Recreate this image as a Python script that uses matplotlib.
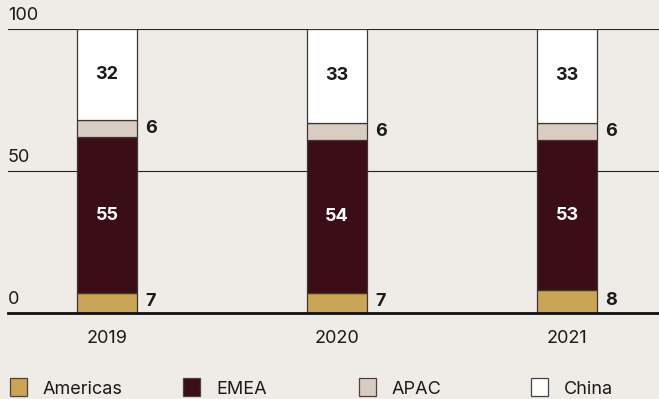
import matplotlib.pyplot as plt
from matplotlib.patches import Rectangle

# Regional share of revenue, percent
years = ['2019', '2020', '2021']
americas = [7, 7, 8]
emea = [55, 54, 53]
apac = [6, 6, 6]
china = [32, 33, 33]

regions = ['Americas', 'EMEA', 'APAC', 'China']
colors = ['#c9a555', '#3b0d17', '#d9cdc1', '#ffffff']
bg = '#efebe7'
ink = '#1a1a1a'
fs = 13

plt.rcParams['font.family'] = ['Inter', 'DejaVu Sans']

fig = plt.figure(figsize=(6.59, 3.99), dpi=100, facecolor=bg)
ax = fig.add_axes([8 / 659, 86 / 399, 651 / 659, 284 / 399])
ax.set_facecolor(bg)

x = list(range(len(years)))
width = 0.26
series = [americas, emea, apac, china]
bottom = [0] * len(years)
for vals, col in zip(series, colors):
    ax.bar(x, vals, width, bottom=bottom, color=col,
           edgecolor='#3e3636', linewidth=0.9, zorder=3)
    bottom = [b + v for b, v in zip(bottom, vals)]

# value labels: big segments inside, small ones to the right
for i in x:
    a, e, p, c = americas[i], emea[i], apac[i], china[i]
    ax.text(i, a + e / 2, str(e), ha='center', va='center',
            color='white', fontsize=fs, fontweight='bold', zorder=4)
    ax.text(i, a + e + p + c / 2, str(c), ha='center', va='center',
            color=ink, fontsize=fs, fontweight='bold', zorder=4)
    ax.text(i + width / 2 + 0.035, a / 2 + 0.5, str(a), ha='left', va='center',
            color=ink, fontsize=fs, fontweight='bold', zorder=4)
    ax.text(i + width / 2 + 0.035, a + e + p / 2, str(p), ha='left', va='center',
            color=ink, fontsize=fs, fontweight='bold', zorder=4)

ax.set_ylim(0, 100)
ax.set_xlim(-99 / 230, 2 + 92 / 230)

# gridlines with labels sitting above them
for yv in [50, 100]:
    ax.axhline(yv, color='#222222', linewidth=0.8, zorder=1)
for yv in [0, 50, 100]:
    ax.text(0, yv + 1.8, str(yv), transform=ax.get_yaxis_transform(),
            ha='left', va='bottom', fontsize=fs, color=ink)
ax.axhline(0, color='#111111', linewidth=2.0, zorder=5, clip_on=False)

for s in ax.spines.values():
    s.set_visible(False)
ax.set_yticks([])
ax.set_xticks(x)
ax.set_xticklabels(years, fontsize=fs, color=ink)
ax.tick_params(axis='x', length=0, pad=12)

# legend row along the bottom edge
W, H = 659, 399
for k, (name, col) in enumerate(zip(regions, colors)):
    x0 = [10, 183, 359, 531][k]
    fig.add_artist(Rectangle((x0 / W, (H - 396) / H), 17 / W, 18 / H,
                             transform=fig.transFigure, facecolor=col,
                             edgecolor='#4a4242', linewidth=0.9))
    fig.text((x0 + 33) / W, (H - 390) / H, name, ha='left', va='center',
             fontsize=fs, color=ink)

fig.savefig('out.png', dpi=100, facecolor=bg)
